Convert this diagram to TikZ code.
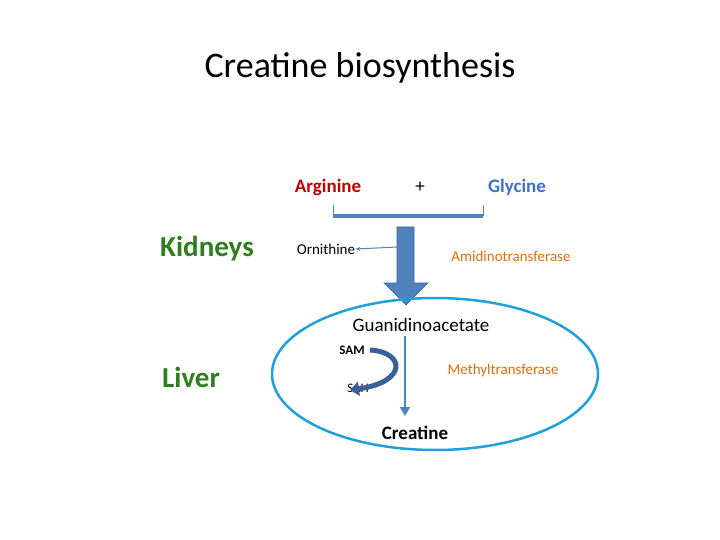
\documentclass[tikz,border=0pt]{standalone}
\usepackage{fontspec}
\setmainfont{Carlito}
\usetikzlibrary{arrows.meta}
\definecolor{ablue}{HTML}{4F81BD}
\definecolor{dblue}{HTML}{3A5F9A}
\definecolor{orng}{HTML}{E46C0A}
\definecolor{argred}{HTML}{C00000}
\definecolor{glyblue}{HTML}{3C6FD0}
\definecolor{grn}{HTML}{2E7D1F}
\definecolor{ellc}{HTML}{1FA0DB}
\begin{document}
\begin{tikzpicture}[x=1pt,y=-1pt,
  lbl/.style={inner sep=0pt,anchor=center},
  f20/.style={font=\fontsize{19}{22}\selectfont},
  f15/.style={font=\fontsize{15}{18}\selectfont},
  enz/.style={lbl,f15,text=orng}]
\useasboundingbox (0,0) rectangle (720,540);
\node[lbl,font=\fontsize{36}{40}\selectfont] (title) at (360,68) {Creatine biosynthesis};
\node[lbl,f20,text=argred,font=\bfseries\fontsize{19}{22}\selectfont] (arg) at (328,187) {Arginine};
\node[lbl,f20] (plus) at (420,187) {+};
\node[lbl,text=glyblue,font=\bfseries\fontsize{19}{22}\selectfont] (gly) at (517,187) {Glycine};
\node[lbl,text=grn,font=\bfseries\fontsize{29}{32}\selectfont] (kid) at (207,249) {Kidneys};
\node[lbl,text=grn,font=\bfseries\fontsize{29}{32}\selectfont] (liv) at (191,377) {Liver};
% bracket
\coordinate (bl) at (333,205); \coordinate (br) at (483,205);
\draw[ablue,line width=0.8pt] (bl) -- (333,216) (br) -- (483,216);
\draw[ablue,line width=4pt] (333,216) -- (483,216);
% big arrow
\fill[ablue,draw=dblue,line width=0.6pt] (397,227) -- (414,227) -- (414,283) -- (428,283) -- (406,305) -- (384,283) -- (397,283) -- cycle;
\node[lbl,f15] (orn) at (326,249) {Ornithine};
\coordinate (os) at (398,247);
\draw[ablue,line width=1pt,-{Stealth[length=5pt]}] (os) -- (orn.east);
\node[enz] (amid) at (511,256) {Amidinotransferase};
% ellipse
\draw[ellc,line width=2.5pt] (435,374) ellipse [x radius=163,y radius=76];
\node[lbl,f20] (gaa) at (421,325) {Guanidinoacetate};
\node[lbl,font=\bfseries\fontsize{15}{18}\selectfont] (creat) at (415,433) {\fontsize{19}{22}\selectfont Creatine};
\draw[ablue,line width=2pt,-{Triangle[length=9pt,width=10pt]}] (405,336) -- (405,416);
\node[lbl,font=\bfseries\fontsize{13}{16}\selectfont] (sam) at (352,350) {SAM};
\node[lbl,font=\fontsize{13}{16}\selectfont] (sah) at (358,388) {SAH};
\draw[dblue,line width=5pt,-{Triangle[length=9pt,width=14pt]}] (370,350) .. controls (405,352) and (408,382) .. (350,390);
\node[enz] (meth) at (503,370) {Methyltransferase};
\end{tikzpicture}
\end{document}
